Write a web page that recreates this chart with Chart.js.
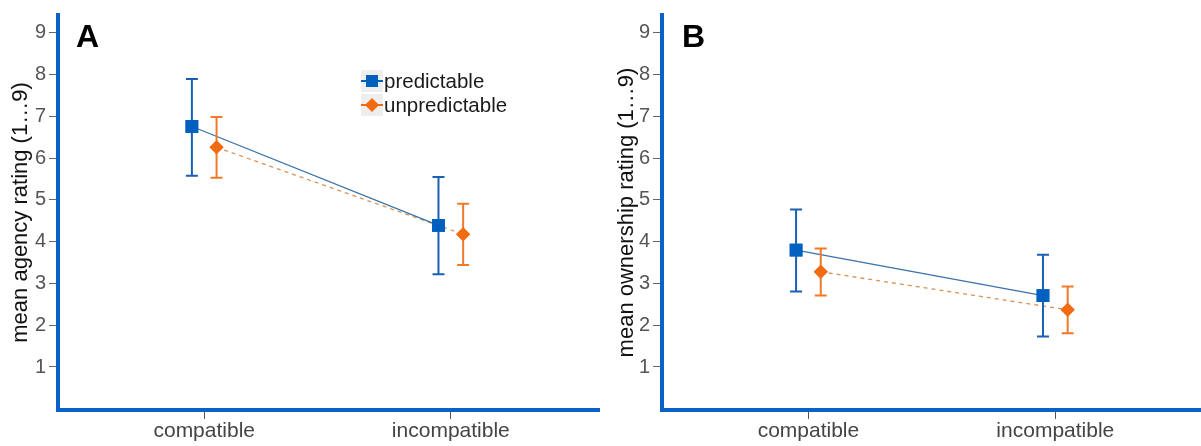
<!DOCTYPE html>
<html>
<head>
<meta charset="utf-8">
<script src="https://cdn.jsdelivr.net/npm/chart.js@4"></script>
<style>
  html, body { margin: 0; padding: 0; overflow: hidden; background: #fff; font-family: "Liberation Sans", Arial, sans-serif; }
  .panel { position: absolute; top: 0; height: 446px; }
  .panel canvas { display: block; }
  .letter { position: absolute; font-weight: bold; font-size: 32px; color: #000; line-height: 1; }
  .legend { position: absolute; left: 361px; top: 69px; font-size: 20.5px; color: #1a1a1a; }
  .legend .row { position: relative; height: 24px; line-height: 24px; padding-left: 23px; }
  .legend .mk { position: absolute; left: 0; top: 1px; width: 22px; height: 22px; background: #eeeeee; }
  .legend .mk .ln { position: absolute; left: 0; top: 10px; width: 22px; height: 2px; }
  .legend .mk .sq { position: absolute; left: 5px; top: 5px; width: 12px; height: 12px; }
  .legend .mk .dm { position: absolute; left: 6px; top: 6px; width: 10px; height: 10px; transform: rotate(45deg); }
</style>
</head>
<body>
<div class="panel" style="left:0;width:600px"><canvas id="chartA"></canvas></div>
<div class="panel" style="left:600px;width:601px"><canvas id="chartB"></canvas></div>
<div class="letter" style="left:76px;top:20px">A</div>
<div class="letter" style="left:682px;top:20px">B</div>
<div class="legend">
  <div class="row"><div class="mk"><div class="ln" style="background:#0060c0"></div><div class="sq" style="background:#0060c0"></div></div>predictable</div>
  <div class="row"><div class="mk"><div class="ln" style="background:#f26b10"></div><div class="dm" style="background:#f26b10"></div></div>unpredictable</div>
</div>
<script>
const categories = ["compatible", "incompatible"];
const categoryPos = [1, 2];
const dodge = 0.05;
const yTicks = [1, 2, 3, 4, 5, 6, 7, 8, 9];

// panel A: agency
const agencyPredMean = [6.76, 4.39];
const agencyPredLow = [5.58, 3.22];
const agencyPredHigh = [7.90, 5.55];
const agencyUnpredMean = [6.26, 4.18];
const agencyUnpredLow = [5.53, 3.44];
const agencyUnpredHigh = [6.99, 4.91];

// panel B: ownership
const ownPredMean = [3.80, 2.71];
const ownPredLow = [2.81, 1.73];
const ownPredHigh = [4.77, 3.69];
const ownUnpredMean = [3.28, 2.37];
const ownUnpredLow = [2.71, 1.81];
const ownUnpredHigh = [3.84, 2.93];

const blue = "#0060c0";
const blueBar = "#1a60b4";
const blueLine = "#3a72a8";
const orange = "#f26b10";
const orangeBar = "#f07a2a";
const orangeLine = "#d99258";
const axisBlue = "#0a62c6";

function points(mean, low, high, shift) {
    return mean.map(function (m, i) {
        return { x: categoryPos[i] + shift, y: m, low: low[i], high: high[i] };
    });
}

const errorBars = {
    id: "errorBars",
    afterDatasetsDraw(chart) {
        const ctx = chart.ctx;
        const xs = chart.scales.x, ys = chart.scales.y;
        chart.data.datasets.forEach(function (ds) {
            ctx.save();
            ctx.strokeStyle = ds.barColor;
            ctx.lineWidth = 2;
            ds.data.forEach(function (p) {
                const px = xs.getPixelForValue(p.x);
                const top = ys.getPixelForValue(p.high);
                const bot = ys.getPixelForValue(p.low);
                ctx.beginPath();
                ctx.moveTo(px, top); ctx.lineTo(px, bot);
                ctx.moveTo(px - 6, top); ctx.lineTo(px + 6, top);
                ctx.moveTo(px - 6, bot); ctx.lineTo(px + 6, bot);
                ctx.stroke();
            });
            ctx.restore();
        });
        // redraw markers on top of the bars
        chart.data.datasets.forEach(function (ds, i) {
            chart.getDatasetMeta(i).data.forEach(function (el) { el.draw(ctx, chart.chartArea); });
        });
    }
};

function makeChart(id, title, pred, unpred, xMax, padLeft, yWidth) {
    return new Chart(document.getElementById(id), {
        type: "line",
        data: {
            datasets: [
                {
                    label: "predictable",
                    data: pred,
                    borderColor: blueLine,
                    borderWidth: 1.3,
                    pointStyle: "rect",
                    pointRadius: 9,
                    pointBackgroundColor: blue,
                    pointBorderColor: blue,
                    pointBorderWidth: 0,
                    barColor: blueBar
                },
                {
                    label: "unpredictable",
                    data: unpred,
                    borderColor: orangeLine,
                    borderWidth: 1.3,
                    borderDash: [4, 4],
                    pointStyle: "rectRot",
                    pointRadius: 7,
                    pointBackgroundColor: orange,
                    pointBorderColor: orange,
                    pointBorderWidth: 0,
                    barColor: orangeBar
                }
            ]
        },
        options: {
            responsive: true,
            maintainAspectRatio: false,
            animation: false,
            layout: { autoPadding: false, padding: { top: 13, left: padLeft, right: 0, bottom: 0 } },
            plugins: { legend: { display: false }, tooltip: { enabled: false } },
            scales: {
                x: {
                    type: "linear",
                    min: 0.407,
                    max: xMax,
                    afterBuildTicks: function (axis) { axis.ticks = categoryPos.map(function (v) { return { value: v }; }); },
                    afterFit: function (axis) { axis.height = 36; },
                    ticks: {
                        callback: function (v) { return categories[categoryPos.indexOf(v)]; },
                        color: "#444",
                        font: { family: "Liberation Sans", size: 21 },
                        padding: 0,
                        maxRotation: 0
                    },
                    grid: { drawOnChartArea: false, tickLength: 9, color: "#555", lineWidth: 1 },
                    border: { color: axisBlue, width: 4 }
                },
                y: {
                    min: -0.03,
                    max: 9.43,
                    afterBuildTicks: function (axis) { axis.ticks = yTicks.map(function (v) { return { value: v }; }); },
                    afterFit: function (axis) { axis.width = yWidth; },
                    ticks: {
                        color: "#555",
                        font: { family: "Liberation Sans", size: 20 },
                        padding: 3
                    },
                    grid: { drawOnChartArea: false, tickLength: 9, color: "#666", lineWidth: 1 },
                    border: { color: axisBlue, width: 4 },
                    title: {
                        display: true,
                        text: title,
                        color: "#111",
                        font: { family: "Liberation Sans", size: 22 },
                        padding: { top: 8, bottom: 0 }
                    }
                }
            }
        },
        plugins: [errorBars]
    });
}

makeChart("chartA", "mean agency rating (1…9)",
    points(agencyPredMean, agencyPredLow, agencyPredHigh, -dodge),
    points(agencyUnpredMean, agencyUnpredLow, agencyUnpredHigh, dodge),
    2.605, 0, 58);
makeChart("chartB", "mean ownership rating (1…9)",
    points(ownPredMean, ownPredLow, ownPredHigh, -dodge),
    points(ownUnpredMean, ownUnpredLow, ownUnpredHigh, dodge),
    2.59, 6, 56);
</script>
</body>
</html>
